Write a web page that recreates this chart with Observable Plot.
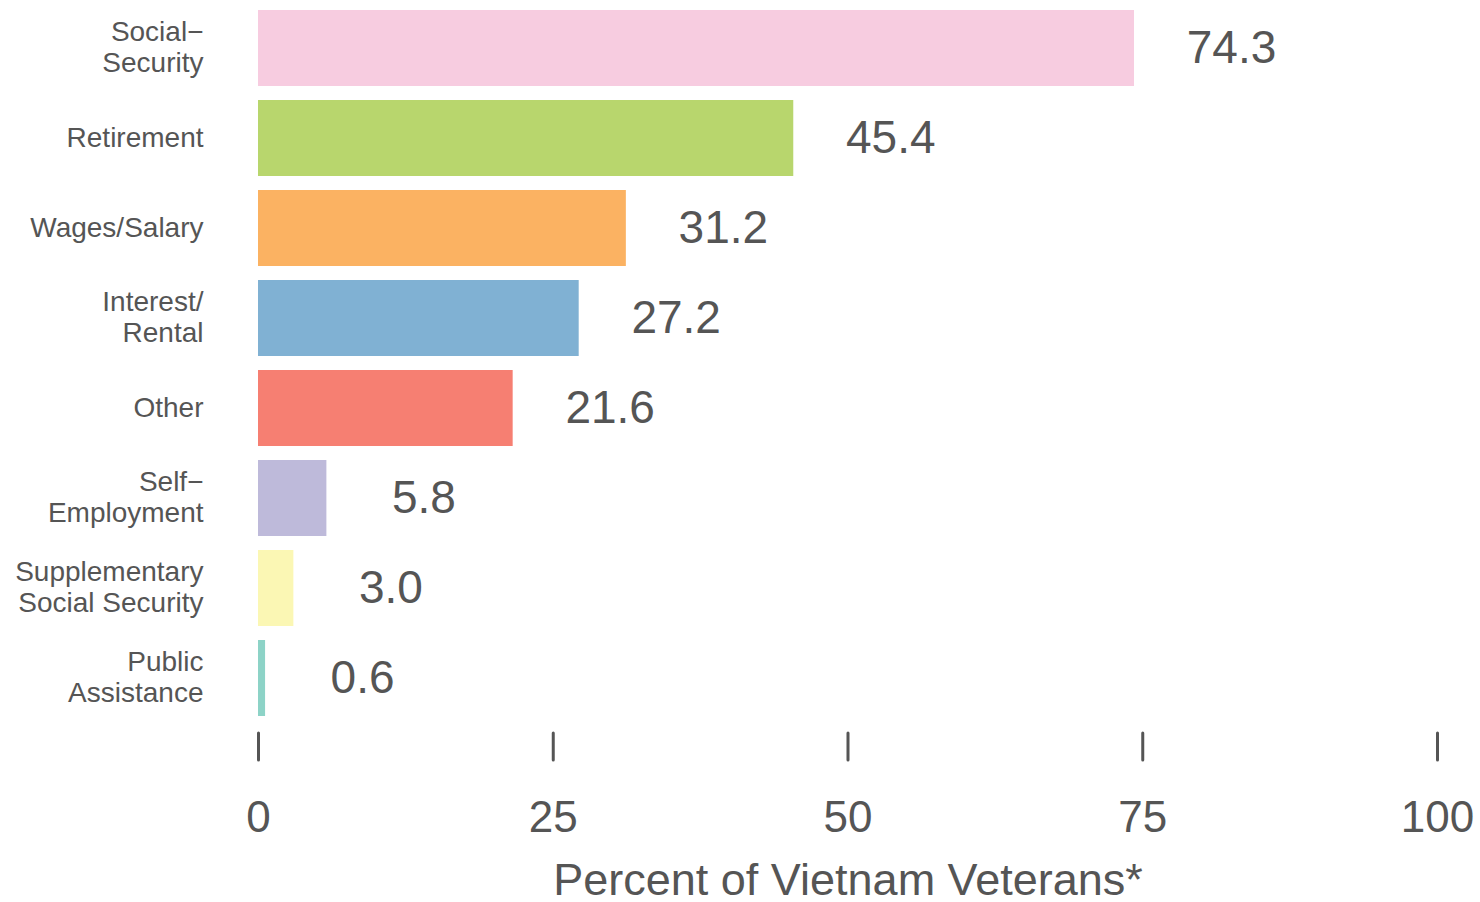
<!DOCTYPE html>
<html><head><meta charset="utf-8">
<script src="https://cdn.jsdelivr.net/npm/d3@7"></script>
<script src="https://cdn.jsdelivr.net/npm/@observablehq/plot@0.6"></script>
<style>html,body{margin:0;padding:0;background:#fff} svg{display:block}</style>
</head><body><div id="chart"></div>
<script>
const categories = ["Social−\nSecurity", "Retirement", "Wages/Salary", "Interest/\nRental", "Other", "Self−\nEmployment", "Supplementary\nSocial Security", "Public\nAssistance"];
const values = [74.3, 45.4, 31.2, 27.2, 21.6, 5.8, 3.0, 0.6];
const colors = ["#f7cce0", "#b8d66d", "#fbb262", "#80b1d3", "#f67f72", "#bebada", "#fbf7b4", "#8dd3c7"];
const xTicks = [0, 25, 50, 75, 100];
const xLabel = "Percent of Vietnam Veterans*";

const data = categories.map((c, i) => ({category: c, value: values[i]}));

const plot = Plot.plot({
  width: 1480,
  height: 902,
  marginLeft: 258,
  marginRight: 43,
  marginTop: 1,
  marginBottom: 169,
  insetBottom: 8,
  style: {fontFamily: "'Liberation Sans', Arial, sans-serif", color: "#555", background: "#fff"},
  x: {domain: [0, 100]},
  y: {domain: categories, paddingInner: 0.16, paddingOuter: 0.083},
  color: {domain: categories, range: colors},
  marks: [
    Plot.barX(data, {x: "value", y: "category", fill: "category"}),
    Plot.text(data, {x: "value", y: "category", text: d => d.value.toFixed(1), dx: 97, fontSize: 46, fill: "#555"}),
    Plot.axisY({tickSize: 0, tickPadding: 55, fontSize: 28, lineHeight: 1.13, label: null, textAnchor: "end", fill: "#555", dy: -2}),
    Plot.axisX({ticks: xTicks, tickSize: 27, strokeWidth: 3, strokeLinecap: "round", stroke: "#555", tickPadding: 40, fontSize: 44, fill: "#555", label: null}),
    Plot.axisX({ticks: [], tickSize: 0, fontSize: 45, fill: "#555", label: xLabel, labelAnchor: "center", labelArrow: "none", labelOffset: 161})
  ]
});
document.getElementById("chart").appendChild(plot);
</script>
</body></html>
